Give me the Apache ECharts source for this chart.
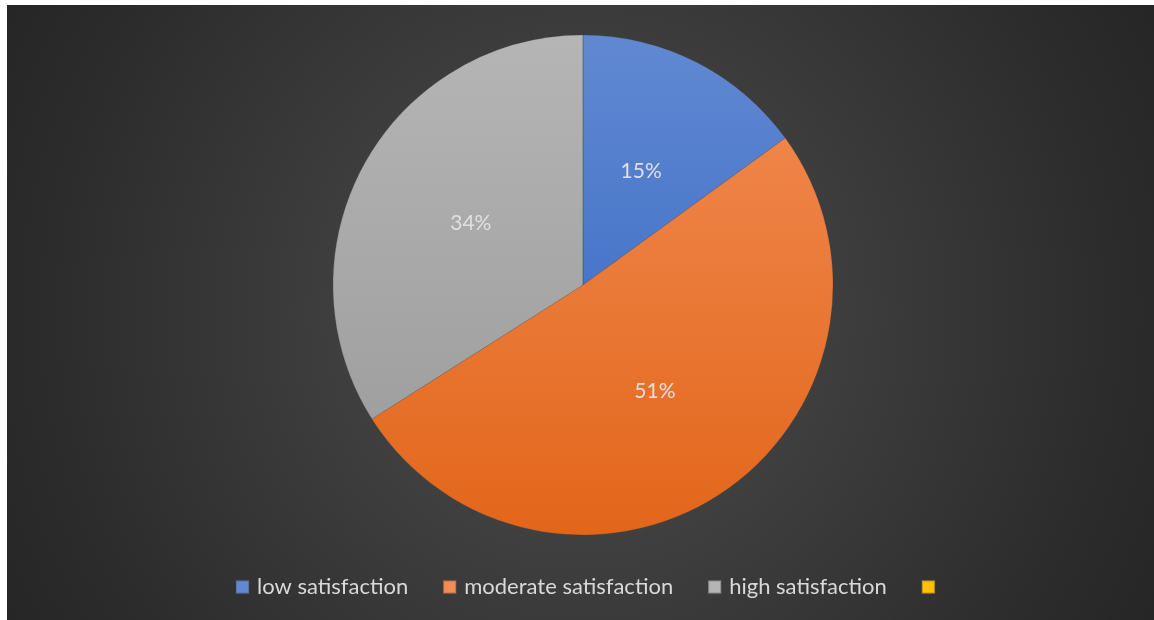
<!DOCTYPE html>
<html>
<head>
<meta charset="utf-8">
<script src="https://cdn.jsdelivr.net/npm/echarts@6/dist/echarts.min.js"></script>
<style>
html,body{margin:0;padding:0;background:#ffffff;width:1154px;height:620px;overflow:hidden;}
#chart{position:absolute;left:7px;top:5px;width:1147px;height:615px;}
</style>
</head>
<body>
<div id="chart"></div>
<script>
const categories = ['low satisfaction', 'moderate satisfaction', 'high satisfaction', ' '];
const values = [15, 51, 34, 0];
const colorTop = ['#6189d2', '#f28d55', '#b5b5b5', '#ffc000'];
const colorBottom = ['#2f62c2', '#e2661a', '#999999', '#ffc000'];

const chart = echarts.init(document.getElementById('chart'), null, {renderer: 'canvas'});
const cx = 576, cy = 280, R = 250;

function grad(i) {
  return {
    type: 'linear', x: 0, y: cy - R, x2: 0, y2: cy + R, global: true,
    colorStops: [{offset: 0, color: colorTop[i]}, {offset: 1, color: colorBottom[i]}]
  };
}

const data = categories.map((c, i) => {
  const d = {
    name: c, value: values[i],
    itemStyle: {color: grad(i)}
  };
  if (values[i] === 0) { d.label = {show: false}; d.labelLine = {show: false}; }
  return d;
});

chart.setOption({
  backgroundColor: {
    type: 'radial', x: 0.5, y: 0.5, r: 1.15,
    colorStops: [{offset: 0, color: '#4e4e4e'}, {offset: 0.75, color: '#2c2c2c'}, {offset: 1, color: '#232323'}]
  },
  legend: {
    bottom: 17, left: 223,
    itemWidth: 13, itemHeight: 13, itemGap: 34,
    icon: 'rect',
    textStyle: {color: '#d9d9d9', fontSize: 22, fontFamily: 'Lato', padding: [0, 0, 0, 3]},
    data: categories.map((c, i) => ({name: c, itemStyle: {color: grad(i)}}))
  },
  series: [{
    type: 'pie',
    center: [cx, cy],
    radius: [0, R],
    startAngle: 90,
    clockwise: true,
    avoidLabelOverlap: false,
    animation: false,
    data: data,
    itemStyle: {borderColor: 'rgba(70,70,70,0.35)', borderWidth: 0.5},
    label: {
      show: true, position: 'inside',
      color: '#e0e0e0', fontSize: 21, fontFamily: 'Lato',
      formatter: p => Math.round(p.percent) + '%'
    },
    labelLine: {show: false},
    emphasis: {disabled: true}
  }]
});
</script>
</body>
</html>
